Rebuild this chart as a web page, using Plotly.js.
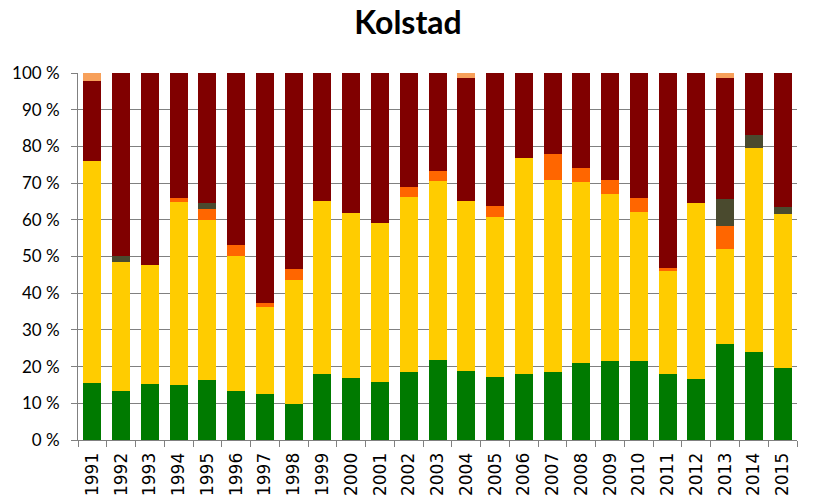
<!DOCTYPE html>
<html>
<head>
<meta charset="utf-8">
<script src="https://cdn.plot.ly/plotly-3.0.1.min.js"></script>
<style>html,body{margin:0;padding:0;background:#fff;}#chart{width:816px;height:502px;}</style>
</head>
<body>
<div id="chart"></div>
<script>
const years = ["1991","1992","1993","1994","1995","1996","1997","1998","1999","2000","2001","2002","2003","2004","2005","2006","2007","2008","2009","2010","2011","2012","2013","2014","2015"];
const green =       [15.6,13.4,15.3,15.0,16.3,13.4,12.5, 9.8,18.0,16.9,15.8,18.5,21.8,18.8,17.2,18.0,18.5,21.0,21.5,21.5,18.0,16.6,26.2,24.0,19.6];
const yellow =      [60.5,35.2,32.4,49.9,43.6,36.8,23.8,33.8,47.1,45.0,43.3,47.8,48.9,46.3,43.7,58.8,52.4,49.3,45.5,40.6,28.1,48.0,25.8,55.7,42.0];
const orange =      [ 0.0, 0.0, 0.0, 1.1, 3.0, 2.9, 1.1, 3.0, 0.0, 0.0, 0.0, 2.6, 2.6, 0.0, 2.9, 0.0, 7.0, 3.8, 3.8, 3.9, 0.8, 0.0, 6.4, 0.0, 0.0];
const olive =       [ 0.0, 1.5, 0.0, 0.0, 1.8, 0.0, 0.0, 0.0, 0.0, 0.0, 0.0, 0.0, 0.0, 0.0, 0.0, 0.0, 0.0, 0.0, 0.0, 0.0, 0.0, 0.0, 7.3, 3.4, 1.9];
const darkred =     [21.8,49.9,52.3,34.0,35.3,46.9,62.6,53.4,34.9,38.1,40.9,31.1,26.7,33.6,36.2,23.2,22.1,25.9,29.2,34.0,53.1,35.4,33.0,16.9,36.5];
const lightorange = [ 2.1, 0.0, 0.0, 0.0, 0.0, 0.0, 0.0, 0.0, 0.0, 0.0, 0.0, 0.0, 0.0, 1.3, 0.0, 0.0, 0.0, 0.0, 0.0, 0.0, 0.0, 0.0, 1.3, 0.0, 0.0];

const series = [
  {name: "green", y: green, color: "#007A00"},
  {name: "yellow", y: yellow, color: "#FFCC00"},
  {name: "orange", y: orange, color: "#FF6600"},
  {name: "olive", y: olive, color: "#4A4A2E"},
  {name: "darkred", y: darkred, color: "#800000"},
  {name: "lightorange", y: lightorange, color: "#F7A05A"}
];

const traces = series.map(s => ({
  type: "bar",
  x: years,
  y: s.y,
  name: s.name,
  marker: {color: s.color, line: {width: 0}},
  hoverinfo: "x+y"
}));

const layout = {
  width: 816, height: 502,
  barmode: "stack",
  barnorm: "percent",
  bargap: 0.374,
  showlegend: false,
  paper_bgcolor: "#fff",
  plot_bgcolor: "#fff",
  margin: {l: 78, r: 19, t: 73, b: 62, pad: 0},
  title: {text: "<b>Kolstad</b>", x: 0.5, xanchor: "center", y: 0.955, yanchor: "middle",
          font: {family: "Lato, 'Open Sans', sans-serif", size: 32, color: "#000"}},
  xaxis: {
    type: "category",
    tickangle: -90,
    tickfont: {family: "'DejaVu Sans', Verdana, sans-serif", size: 17, color: "#000"},
    showline: true, linecolor: "#808080", linewidth: 1,
    ticks: "outside", tickson: "boundaries", ticklen: 6, tickcolor: "#808080",
    ticklabelstandoff: 5,
    showgrid: false, zeroline: false
  },
  yaxis: {
    range: [0, 100],
    dtick: 10,
    ticksuffix: " %",
    tickfont: {family: "Lato, 'Open Sans', sans-serif", size: 17, color: "#000"},
    showline: true, linecolor: "#808080", linewidth: 1,
    ticks: "outside", ticklen: 6, tickcolor: "#808080",
    ticklabelstandoff: 8,
    showgrid: true, gridcolor: "#808080", gridwidth: 1,
    zeroline: false
  }
};

Plotly.newPlot("chart", traces, layout, {displayModeBar: false, staticPlot: true});
</script>
</body>
</html>
